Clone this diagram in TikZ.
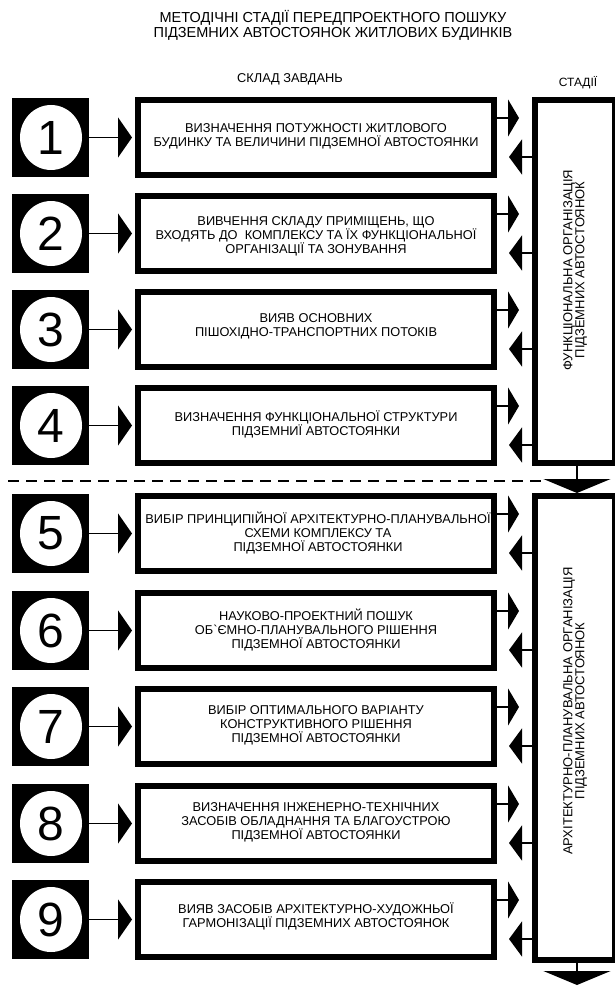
\documentclass[tikz,border=0pt]{standalone}
\usepackage{fontspec}
\newfontfamily\uaf{Liberation Sans}
\usetikzlibrary{arrows.meta,calc,shapes.geometric}
\begin{document}
\begin{tikzpicture}[x=1pt,y=-1pt,
  every node/.style={font=\uaf},
  taskbox/.style={draw=black,line width=6pt,minimum width=356pt,minimum height=75pt,inner sep=0pt},
  numsq/.style={fill=black,minimum width=77pt,minimum height=79pt,inner sep=0pt},
  numcirc/.style={ellipse,fill=white,minimum width=62pt,minimum height=65pt,inner sep=0pt,font=\uaf\fontsize{48}{48}\selectfont},
  tasktext/.style={align=center,font=\uaf\fontsize{12.8}{14}\selectfont,inner sep=0pt},
  stagebox/.style={draw=black,line width=6pt,minimum width=80pt,inner sep=0pt},
  stagetext/.style={rotate=90,align=center,font=\uaf\fontsize{13}{12}\selectfont,inner sep=0pt},
  inarrow/.style={line width=1.5pt,-{Triangle[length=14pt,width=40pt]}},
  outarrow/.style={line width=1.5pt,-{Triangle[length=11pt,width=37pt]}},
  backarrow/.style={line width=1.5pt,-{Triangle[length=13pt,width=35pt]}},
  downarrow/.style={line width=2pt,-{Triangle[length=14pt,width=67pt]}},
  dashline/.style={line width=2.5pt,dash pattern=on 11pt off 7pt},
]
\fill[white] (0,0) rectangle (615,987);
\useasboundingbox (0,0) rectangle (615,987);

% title and headers
\node[font=\uaf\fontsize{14.5}{15.5}\selectfont,align=center] (title) at (333,25.5)
  {МЕТОДІЧНІ СТАДІЇ ПЕРЕДПРОЕКТНОГО ПОШУКУ\\ПІДЗЕМНИХ АВТОСТОЯНОК ЖИТЛОВИХ БУДИНКІВ};
\node[font=\uaf\fontsize{12.8}{12}\selectfont] (hdr1) at (290,79.5) {СКЛАД ЗАВДАНЬ};
\node[font=\uaf\fontsize{12}{12}\selectfont] (hdr2) at (578,83) {СТАДІЇ};

% stage boxes
\node[stagebox,minimum height=363pt] (st1) at (575,281.5) {};
\node[stagebox,minimum height=464pt] (st2) at (575,728) {};
\node[stagetext] (lab1) at (575,270) {ФУНКЦІОНАЛЬНА ОРГАНІЗАЦІЯ\\ПІДЗЕМНИХ АВТОСТОЯНОК};
\node[stagetext] (lab2) at (575,711) {АРХІТЕКТУРНО-ПЛАНУВАЛЬНА ОРГАНІЗАЦІЯ\\ПІДЗЕМНИХ АВТОСТОЯНОК};

% task rows
\foreach \i/\t in {1/97,2/193,3/289,4/385,5/493,6/590,7/686,8/783,9/879}{
  \node[taskbox] (b\i) at (316,\t+40.5) {};
  \node[numsq] (s\i) at (50.5,\t+40.5) {};
  \node[numcirc] (c\i) at (51,\t+40.5) {\i};
  \coordinate (bin\i) at ($(b\i.west)+(-3,0)$);
  \draw[inarrow] (s\i.east) -- (bin\i);
  \coordinate (ra\i) at ($(b\i.north east)+(0,21)$);
  \coordinate (rt\i) at ($(b\i.north east)+(22,21)$);
  \draw[outarrow] (ra\i) -- (rt\i);
  \coordinate (la\i) at ($(b\i.north east)+(12,60)$);
}
\foreach \i in {1,2,3,4}{\draw[backarrow] (st1.west |- la\i) -- (la\i);}
\foreach \i in {5,6,7,8,9}{\draw[backarrow] (st2.west |- la\i) -- (la\i);}

\node[tasktext] (t1) at ($(b1.center)+(0,-1)$) {ВИЗНАЧЕННЯ ПОТУЖНОСТІ ЖИТЛОВОГО\\БУДИНКУ ТА ВЕЛИЧИНИ ПІДЗЕМНОЇ АВТОСТОЯНКИ};
\node[tasktext] (t2) at ($(b2.center)+(0,3)$) {ВИВЧЕННЯ СКЛАДУ ПРИМІЩЕНЬ, ЩО\\ВХОДЯТЬ ДО\ \ КОМПЛЕКСУ ТА ЇХ ФУНКЦІОНАЛЬНОЇ\\ОРГАНІЗАЦІЇ ТА ЗОНУВАННЯ};
\node[tasktext] (t3) at ($(b3.center)+(0,-3)$) {ВИЯВ ОСНОВНИХ\\ПІШОХІДНО-ТРАНСПОРТНИХ ПОТОКІВ};
\node[tasktext] (t4) at ($(b4.center)+(0,-1)$) {ВИЗНАЧЕННЯ ФУНКЦІОНАЛЬНОЇ СТРУКТУРИ\\ПІДЗЕМНИЇ АВТОСТОЯНКИ};
\node[tasktext] (t5) at ($(b5.center)+(2,-1)$) {ВИБІР ПРИНЦИПІЙНОЇ АРХІТЕКТУРНО-ПЛАНУВАЛЬНОЇ\\СХЕМИ КОМПЛЕКСУ ТА\\ПІДЗЕМНОЇ АВТОСТОЯНКИ};
\node[tasktext] (t6) at ($(b6.center)+(0,-1)$) {НАУКОВО-ПРОЕКТНИЙ ПОШУК\\ОБ`ЄМНО-ПЛАНУВАЛЬНОГО РІШЕННЯ\\ПІДЗЕМНОЇ АВТОСТОЯНКИ};
\node[tasktext] (t7) at ($(b7.center)+(0,-1)$) {ВИБІР ОПТИМАЛЬНОГО ВАРІАНТУ\\КОНСТРУКТИВНОГО РІШЕННЯ\\ПІДЗЕМНОЇ АВТОСТОЯНКИ};
\node[tasktext] (t8) at ($(b8.center)+(0,-1)$) {ВИЗНАЧЕННЯ ІНЖЕНЕРНО-ТЕХНІЧНИХ\\ЗАСОБІВ ОБЛАДНАННЯ ТА БЛАГОУСТРОЮ\\ПІДЗЕМНОЇ АВТОСТОЯНКИ};
\node[tasktext] (t9) at ($(b9.center)+(0,-3)$) {ВИЯВ ЗАСОБІВ АРХІТЕКТУРНО-ХУДОЖНЬОЇ\\ГАРМОНІЗАЦІЇ ПІДЗЕМНИХ АВТОСТОЯНОК};

% divider and stage arrows
\coordinate (dl) at (8,481);
\coordinate (dr) at (542,481);
\draw[dashline] (dl) -- (dr);
\draw[downarrow] ($(st1.south)+(2,0)$) -- ($(st2.north)+(2,0)$);
\coordinate (endpt) at (577,985);
\draw[downarrow] ($(st2.south)+(2,0)$) -- (endpt);
\end{tikzpicture}
\end{document}
